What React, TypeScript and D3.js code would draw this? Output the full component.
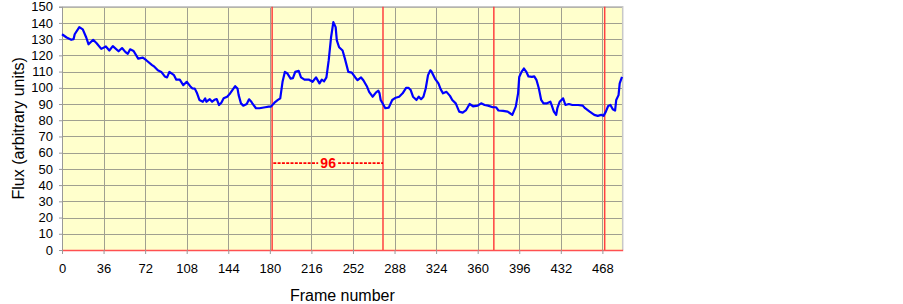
import { useEffect, useRef } from "react";
import * as d3 from "d3";

// frame numbers and flux values
const frames = [
  0, 4, 8, 10, 11, 15, 18, 21, 23, 27, 30, 34, 38, 41, 44, 49, 52, 55, 57, 59,
  62, 66, 70, 73, 78, 80, 83, 86, 89, 91, 93, 97, 99, 102, 105, 108, 111, 113,
  115, 117, 119, 122, 124, 125, 128, 130, 132, 134, 136, 138, 140, 143, 145,
  148, 150, 152, 153, 155, 157, 160, 162, 164, 165, 168, 171, 176, 179, 181,
  184, 187, 189, 191, 193, 195, 198, 200, 202, 205, 207, 210, 214, 217, 220,
  223, 225, 227, 229, 231, 233, 235, 237, 238, 240, 243, 245, 248, 251, 254,
  256, 259, 261, 264, 266, 269, 272, 274, 275, 276, 278, 280, 283, 286, 289,
  292, 295, 298, 300, 302, 304, 307, 309, 311, 313, 315, 317, 319, 320, 323,
  326, 328, 330, 333, 336, 338, 341, 344, 347, 350, 353, 356, 360, 363, 366,
  369, 373, 376, 378, 382, 386, 388, 390, 393, 395, 396, 398, 400, 402, 404,
  407, 409, 411, 413, 415, 417, 420, 423, 424, 426, 428, 429, 431, 434, 436,
  439, 442, 447, 451, 453, 457, 461, 464, 467, 469, 471, 473, 475, 477, 479,
  480, 482, 483, 485,
];
const flux = [
  133, 131, 129.6, 130, 133, 137.4, 136, 131, 126.8, 129.6, 127.5, 124, 125.5,
  123, 125.7, 122.5, 124.5, 122, 121, 123.7, 122.7, 118, 118.6, 117, 114, 113,
  110.8, 109.8, 107, 106.4, 109.8, 107.8, 105, 105, 101.6, 103.7, 101, 99.6,
  99.5, 96.6, 92.5, 91.4, 93.5, 91.4, 93, 91.4, 92.6, 93, 89.4, 90.8, 93.5,
  94.5, 96, 99, 101, 99.6, 95.5, 90.4, 89, 90, 92.9, 91.4, 90.2, 87.4, 87.4,
  88, 88.4, 88.4, 90.8, 92.5, 93.5, 103.7, 109.8, 109, 105.7, 106, 109.8,
  110.4, 106.4, 105, 105, 103.7, 106.4, 102.7, 105, 104, 106.4, 117, 131,
  140.5, 137.4, 129.2, 125, 123, 118, 109.8, 109.4, 106.4, 104.7, 106.4, 104.7,
  101, 97.5, 94.5, 97.2, 98.2, 96.6, 92.5, 90, 87.4, 87.8, 92.5, 93.9, 94.5,
  96.6, 100, 100, 98.6, 94.5, 92.5, 94.5, 93, 94.5, 99.6, 107.8, 110.8, 110,
  105.7, 102.7, 99, 96.6, 97.5, 95, 92.5, 90.4, 85.3, 84.7, 86.3, 90, 88.6, 89,
  90.4, 89.4, 89, 88, 88, 86, 85.8, 85.3, 84.3, 83.3, 88.4, 96.6, 106.7, 109.8,
  111.9, 110, 107, 106.7, 107, 104.7, 99.6, 92.5, 90.4, 90.4, 91.4, 89.4, 85.3,
  83.3, 87.4, 91.4, 93.5, 89.4, 90, 89.4, 89.4, 89, 87.4, 85.3, 83.3, 82.7,
  83.3, 82.7, 85.3, 88.8, 89.4, 86.8, 86, 92.5, 95.5, 102.7, 106.7,
];

const xTicks = [0, 36, 72, 108, 144, 180, 216, 252, 288, 324, 360, 396, 432, 468];
const yTicks = [0, 10, 20, 30, 40, 50, 60, 70, 80, 90, 100, 110, 120, 130, 140, 150];
const markers = [182, 278, 374, 470];
const period = { from: 183, to: 278, level: 53.5, label: "96" };

export default function App() {
  const ref = useRef<SVGSVGElement>(null);

  useEffect(() => {
    document.body.style.margin = "0";
    if (!ref.current) return;

    const width = 903,
      height = 304,
      margin = { top: 6.7, right: 280.3, bottom: 54, left: 62 };
    const font = "'Liberation Sans', Arial, sans-serif";
    const xMax = 485.6;

    const svg = d3.select(ref.current);
    svg.selectAll("*").remove();
    svg.attr("width", width).attr("height", height);

    const x = d3
      .scaleLinear()
      .domain([0, xMax])
      .range([margin.left, width - margin.right]);
    const y = d3
      .scaleLinear()
      .domain([0, 150])
      .range([height - margin.bottom, margin.top]);

    // plot background
    svg
      .append("rect")
      .attr("x", x(0))
      .attr("y", y(150))
      .attr("width", x(xMax) - x(0))
      .attr("height", y(0) - y(150))
      .attr("fill", "#ffffcc");

    // grid
    svg
      .append("g")
      .selectAll("line")
      .data(yTicks.slice(1))
      .enter()
      .append("line")
      .attr("x1", x(0))
      .attr("x2", x(xMax))
      .attr("y1", (d) => Math.round(y(d)) + 0.5)
      .attr("y2", (d) => Math.round(y(d)) + 0.5)
      .attr("stroke", "#a0a090")
      .attr("stroke-width", 1);

    svg
      .append("g")
      .selectAll("line")
      .data(xTicks.slice(1))
      .enter()
      .append("line")
      .attr("x1", (d) => Math.round(x(d)) + 0.5)
      .attr("x2", (d) => Math.round(x(d)) + 0.5)
      .attr("y1", y(0))
      .attr("y2", y(150))
      .attr("stroke", "#a0a090")
      .attr("stroke-width", 1);

    // plot border (top / right)
    svg
      .append("path")
      .attr("d", `M${x(0)},${y(150)}H${x(xMax)}V${y(0)}`)
      .attr("fill", "none")
      .attr("stroke", "#c8c8c8")
      .attr("stroke-width", 1.5);

    // y axis
    const yAxis = svg
      .append("g")
      .attr("transform", `translate(${x(0)},0)`)
      .call(d3.axisLeft(y).tickValues(yTicks).tickSize(3).tickPadding(6));
    yAxis.select(".domain").attr("stroke", "#999");
    yAxis.selectAll(".tick line").attr("stroke", "#999");
    yAxis
      .selectAll("text")
      .style("font-family", font)
      .style("font-size", "13px")
      .attr("fill", "#000");

    // x axis
    const xAxis = svg
      .append("g")
      .attr("transform", `translate(0,${y(0)})`)
      .call(d3.axisBottom(x).tickValues(xTicks).tickSize(4).tickPadding(10).tickSizeOuter(0));
    xAxis.select(".domain").attr("stroke", "#ff5050").attr("stroke-width", 1.5);
    xAxis.selectAll(".tick line").attr("stroke", "#999");
    xAxis
      .selectAll("text")
      .style("font-family", font)
      .style("font-size", "13px")
      .attr("fill", "#000");

    // red frame markers
    svg
      .append("g")
      .selectAll("line")
      .data(markers)
      .enter()
      .append("line")
      .attr("x1", (d) => x(d))
      .attr("x2", (d) => x(d))
      .attr("y1", y(0))
      .attr("y2", y(150))
      .attr("stroke", "#ff4040")
      .attr("stroke-width", 1.5);

    // period annotation: dashed line broken around the label
    const mid = (period.from + period.to) / 2;
    const gap = 10;
    svg
      .append("g")
      .selectAll("line")
      .data([
        [x(period.from), x(mid) - gap],
        [x(mid) + gap, x(period.to)],
      ])
      .enter()
      .append("line")
      .attr("x1", (d) => d[0])
      .attr("x2", (d) => d[1])
      .attr("y1", y(period.level))
      .attr("y2", y(period.level))
      .attr("stroke", "#ff0000")
      .attr("stroke-width", 1.8)
      .attr("stroke-dasharray", "3,1.3");

    svg
      .append("text")
      .attr("x", x(mid))
      .attr("y", y(period.level) + 5)
      .attr("text-anchor", "middle")
      .style("font-family", font)
      .style("font-size", "14px")
      .style("font-weight", "bold")
      .attr("fill", "#ff0000")
      .text(period.label);

    // flux curve
    const line = d3
      .line<number>()
      .x((d, i) => x(frames[i]))
      .y((d) => y(d));
    svg
      .append("path")
      .datum(flux)
      .attr("d", line)
      .attr("fill", "none")
      .attr("stroke", "#0000ff")
      .attr("stroke-width", 2.2)
      .attr("stroke-linejoin", "round");

    // axis titles
    svg
      .append("text")
      .attr("x", (x(0) + x(xMax)) / 2)
      .attr("y", 300.5)
      .attr("text-anchor", "middle")
      .style("font-family", font)
      .style("font-size", "16px")
      .attr("fill", "#000")
      .text("Frame number");

    svg
      .append("text")
      .attr("transform", `translate(24,${(y(0) + y(150)) / 2}) rotate(-90)`)
      .attr("text-anchor", "middle")
      .style("font-family", font)
      .style("font-size", "16px")
      .attr("fill", "#000")
      .text("Flux (arbitrary units)");
  }, []);

  return <svg ref={ref} style={{ display: "block" }} />;
}
